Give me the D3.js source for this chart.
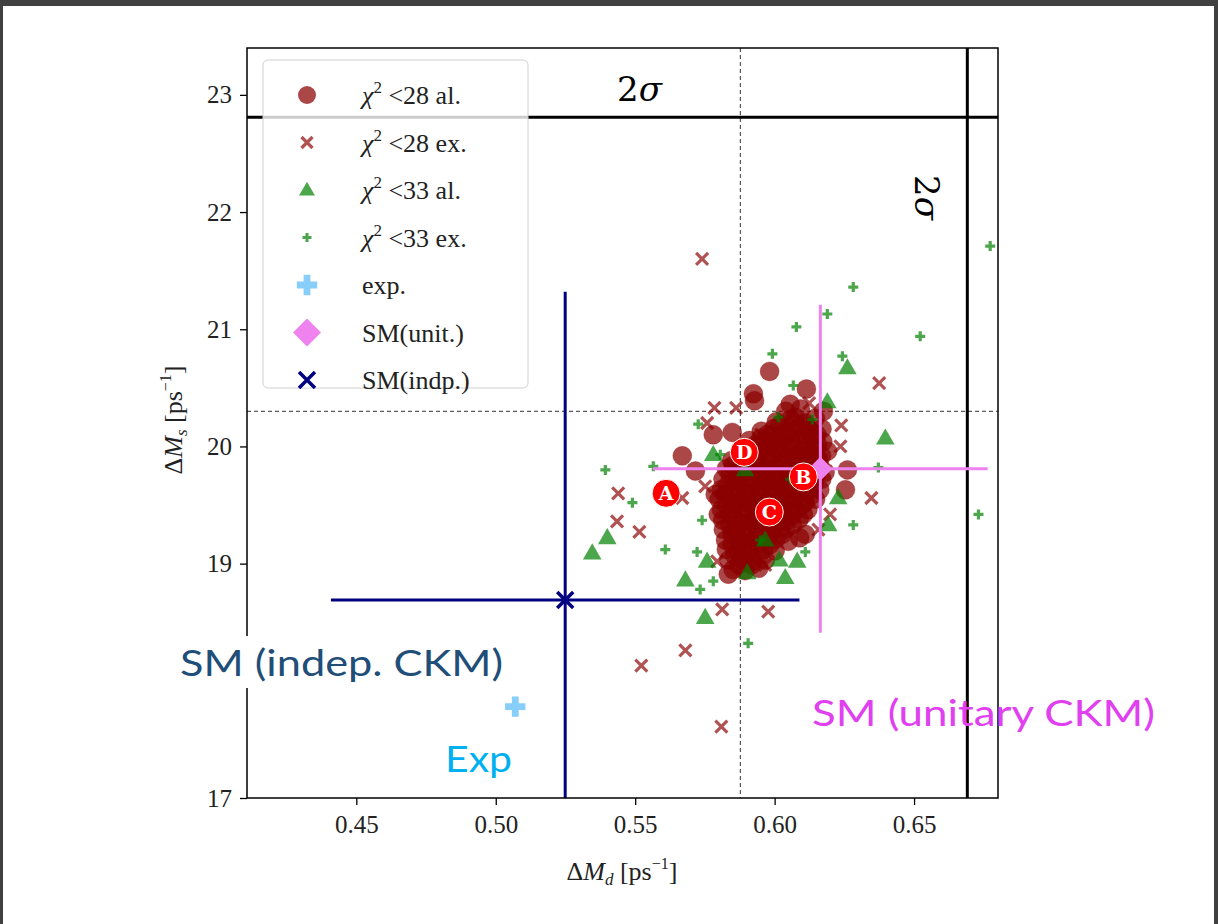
<!DOCTYPE html>
<html><head><meta charset="utf-8">
<script src="https://cdn.jsdelivr.net/npm/d3@7"></script>
<style>body{margin:0;background:#fff;overflow:hidden} svg{display:block}</style>
</head><body><svg id="c" width="1218" height="924"></svg>
<script>
// ---------------- data ----------------
const xDomain = [0.4108, 0.6801];
const yDomain = [17, 23.4];
const xTicks = [0.45, 0.50, 0.55, 0.60, 0.65];
const yTicks = [17, 19, 20, 21, 22, 23];

const redCircles = [
[0.5982,20.64],[0.5924,20.45],[0.5928,20.39],[0.6114,20.49],[0.6175,20.30],[0.5780,20.10],[0.5848,20.12],
[0.5669,19.92],[0.5716,19.79],[0.5787,19.59],[0.5798,19.42],[0.6261,19.80],[0.6254,19.63],[0.5834,18.91],
[0.6110,19.25],[0.6074,20.25],[0.6056,20.36],
[0.6040,20.30],[0.6093,20.32],
[0.6006,20.21],[0.6057,20.23],[0.6110,20.20],[0.6146,20.24],
[0.5952,20.13],[0.5996,20.15],[0.6041,20.12],[0.6087,20.16],[0.6129,20.13],[0.6170,20.15],
[0.5909,20.05],[0.5951,20.07],[0.5994,20.04],[0.6039,20.07],[0.6086,20.05],[0.6131,20.08],[0.6173,20.04],
[0.5880,19.98],[0.5923,19.96],[0.5967,19.99],[0.6013,19.97],[0.6058,19.98],[0.6101,19.96],[0.6146,19.99],[0.6190,19.96],
[0.5846,19.88],[0.5889,19.90],[0.5934,19.88],[0.5981,19.89],[0.6023,19.87],[0.6066,19.90],[0.6111,19.88],[0.6157,19.89],
[0.5827,19.81],[0.5872,19.79],[0.5917,19.81],[0.5961,19.80],[0.6004,19.82],[0.6049,19.79],[0.6093,19.81],[0.6137,19.80],[0.6181,19.78],
[0.5815,19.72],[0.5863,19.71],[0.5907,19.73],[0.5951,19.71],[0.5992,19.72],[0.6039,19.70],[0.6084,19.73],[0.6127,19.71],[0.6169,19.72],
[0.5808,19.63],[0.5853,19.64],[0.5897,19.62],[0.5943,19.63],[0.5987,19.65],[0.6029,19.62],[0.6076,19.64],[0.6119,19.62],[0.6162,19.63],
[0.5801,19.55],[0.5844,19.53],[0.5887,19.55],[0.5933,19.54],[0.5977,19.53],[0.6021,19.55],[0.6064,19.54],[0.6109,19.52],[0.6147,19.55],
[0.5809,19.46],[0.5851,19.47],[0.5895,19.45],[0.5941,19.46],[0.5986,19.44],[0.6029,19.47],[0.6073,19.45],[0.6119,19.46],
[0.5814,19.37],[0.5861,19.38],[0.5906,19.36],[0.5951,19.37],[0.5994,19.38],[0.6039,19.36],[0.6088,19.38],
[0.5816,19.29],[0.5862,19.28],[0.5906,19.30],[0.5951,19.29],[0.5993,19.28],[0.6041,19.30],
[0.5824,19.20],[0.5871,19.21],[0.5917,19.19],[0.5959,19.20],[0.6004,19.21],[0.6049,19.19],[0.6090,19.22],
[0.5827,19.12],[0.5869,19.11],[0.5914,19.13],[0.5961,19.12],[0.6002,19.11],
[0.5836,19.03],[0.5879,19.04],[0.5921,19.02],[0.5967,19.03],
[0.5851,18.95],[0.5894,18.94],[0.5943,18.96],
[0.6018,20.18],[0.6066,20.19],[0.6116,20.17],
[0.5973,20.10],[0.6018,20.09],[0.6063,20.11],[0.6108,20.10],[0.6152,20.10],
[0.5929,20.01],[0.5972,20.02],[0.6017,20.01],[0.6062,20.02],[0.6108,20.00],[0.6153,20.02],
[0.5902,19.93],[0.5946,19.94],[0.5991,19.93],[0.6035,19.94],[0.6081,19.93],[0.6124,19.94],[0.6168,19.92],
[0.5852,19.84],[0.5895,19.85],[0.5939,19.84],[0.5983,19.85],[0.6027,19.84],[0.6071,19.85],[0.6115,19.84],[0.6160,19.85],
[0.5840,19.76],[0.5885,19.75],[0.5929,19.76],[0.5972,19.76],[0.6016,19.75],[0.6061,19.76],[0.6106,19.75],[0.6149,19.76],
[0.5831,19.67],[0.5875,19.68],[0.5920,19.67],[0.5965,19.68],[0.6008,19.67],[0.6053,19.68],[0.6097,19.67],[0.6141,19.68],
[0.5823,19.59],[0.5866,19.58],[0.5910,19.59],[0.5955,19.58],[0.5999,19.59],[0.6043,19.58],[0.6087,19.59],[0.6130,19.58],
[0.5828,19.50],[0.5872,19.51],[0.5917,19.50],[0.5962,19.51],[0.6006,19.49],[0.6051,19.50],[0.6096,19.50],
[0.5838,19.42],[0.5883,19.41],[0.5928,19.42],[0.5972,19.41],[0.6017,19.42],[0.6062,19.41],[0.6103,19.42],
[0.5839,19.33],[0.5884,19.34],[0.5929,19.33],[0.5972,19.33],[0.6017,19.34],[0.6064,19.33],
[0.5847,19.25],[0.5893,19.24],[0.5938,19.25],[0.5982,19.24],[0.6027,19.25],
[0.5848,19.16],[0.5892,19.16],[0.5937,19.17],[0.5982,19.16],
[0.5857,19.07],[0.5900,19.08],[0.5944,19.07],[0.5871,18.99],[0.5918,18.99]
];
const redCrosses = [
[0.5740,21.60],[0.6375,20.54],[0.6347,19.56],[0.5439,19.60],[0.5435,19.36],[0.5515,19.27],[0.5522,18.13],
[0.5680,18.26],[0.5809,17.61],[0.5812,18.61],[0.5977,18.59],[0.5669,19.56],[0.5784,20.33],[0.5862,20.33],
[0.5758,20.20],[0.5952,20.10],[0.6239,20.18],[0.6124,20.37],[0.6236,20.00],[0.6199,19.42],[0.5751,19.66],
[0.5794,19.02],[0.5966,18.99],[0.6074,19.54],[0.6157,19.29]
];
const greenTriangles = [
[0.6261,20.67],[0.6397,20.07],[0.6189,20.38],[0.5346,19.09],[0.5400,19.22],[0.5680,18.86],[0.5751,18.54],
[0.6038,18.88],[0.6081,19.02],[0.5902,18.92],[0.5758,19.02],[0.6017,19.03],[0.6228,19.56],[0.6192,19.33],
[0.5780,19.93],[0.5966,19.20],[0.5894,19.80]
];
const greenPluses = [
[0.6773,21.71],[0.6731,19.42],[0.6282,21.36],[0.6522,20.94],[0.6189,21.13],[0.6078,21.02],[0.5992,20.79],
[0.6243,20.77],[0.6067,20.52],[0.5726,20.19],[0.6013,20.25],[0.5393,19.80],[0.5565,19.83],[0.5490,19.52],
[0.5740,19.37],[0.5608,19.12],[0.5722,19.10],[0.5780,18.85],[0.5733,18.78],[0.6110,19.10],[0.6282,19.33],
[0.5905,18.32],[0.6372,19.82],[0.5805,19.93],[0.5949,19.20],[0.6056,19.72],[0.6135,20.23]
];
const expPoint = [0.5070, 17.78];
const smUnit = {x: 0.6164, y: 19.81, ex: 0.060, ey: 1.40};
const smIndp = {x: 0.5249, y: 18.69, ex: 0.084, ey: 2.63};
const sigmaX = 0.6691, sigmaY = 22.81;
const dashX = 0.5877, dashY = 20.30;
const benchmarks = [
  {name: "A", x: 0.5611, y: 19.60},
  {name: "B", x: 0.6103, y: 19.74},
  {name: "C", x: 0.5981, y: 19.44},
  {name: "D", x: 0.5891, y: 19.95}
];
const legendLabels = ["<28 al.", "<28 ex.", "<33 al.", "<33 ex.", "exp.", "SM(unit.)", "SM(indp.)"];

// ---------------- drawing ----------------
const svg = d3.select("#c");
const L = 247, R = 998, T = 48, B = 798;
const x = d3.scaleLinear().domain(xDomain).range([L, R]);
const y = d3.scaleLinear().domain(yDomain).range([B, T]);

svg.append("rect").attr("x",0).attr("y",0).attr("width",1218).attr("height",6).attr("fill","#404040");
svg.append("rect").attr("x",0).attr("y",0).attr("width",3).attr("height",924).attr("fill","#404040");
svg.append("rect").attr("x",1214).attr("y",0).attr("width",4).attr("height",924).attr("fill","#404040");

svg.append("defs").append("clipPath").attr("id","clip")
  .append("rect").attr("x",L).attr("y",T).attr("width",R-L).attr("height",B-T);

const serif = "'Liberation Serif', 'DejaVu Serif', serif";

const xAxis = d3.axisBottom(x).tickValues(xTicks).tickFormat(d3.format(".2f")).tickSize(7).tickPadding(10);
const yAxis = d3.axisLeft(y).tickValues(yTicks).tickFormat(d3.format("d")).tickSize(7).tickPadding(8);
const gx = svg.append("g").attr("transform",`translate(0,${B})`).call(xAxis);
const gy = svg.append("g").attr("transform",`translate(${L},0)`).call(yAxis);
[gx, gy].forEach(g => {
  g.select(".domain").remove();
  g.selectAll(".tick line").attr("stroke","#000").attr("stroke-width",1.3);
  g.selectAll(".tick text").attr("font-family",serif).attr("font-size",25).attr("fill","#222");
});

const plot = svg.append("g").attr("clip-path","url(#clip)");

plot.append("line").attr("x1",x(dashX)).attr("x2",x(dashX)).attr("y1",T).attr("y2",B)
  .attr("stroke","#333").attr("stroke-width",1).attr("stroke-dasharray","4,3");
plot.append("line").attr("x1",L).attr("x2",R).attr("y1",y(dashY)).attr("y2",y(dashY))
  .attr("stroke","#333").attr("stroke-width",1).attr("stroke-dasharray","4,3");
plot.append("line").attr("x1",x(sigmaX)).attr("x2",x(sigmaX)).attr("y1",T).attr("y2",B)
  .attr("stroke","#000").attr("stroke-width",3);
plot.append("line").attr("x1",L-2).attr("x2",R).attr("y1",y(sigmaY)).attr("y2",y(sigmaY))
  .attr("stroke","#000").attr("stroke-width",3);

const plusPath = (s) => `M${-s},0H${s}M0,${-s}V${s}`;
const xPath = (s) => `M${-s},${-s}L${s},${s}M${-s},${s}L${s},${-s}`;
const triPath = d3.symbol().type(d3.symbolTriangle).size(150)();
const diamondPath = (s) => `M0,${-s}L${s},0L0,${s}L${-s},0Z`;

plot.selectAll(".rc").data(redCircles).join("circle")
  .attr("cx", d => x(d[0])).attr("cy", d => y(d[1])).attr("r", 9.5)
  .attr("fill","darkred").attr("fill-opacity",0.72)
  .attr("stroke","darkred").attr("stroke-opacity",0.3).attr("stroke-width",1);
plot.selectAll(".rx").data(redCrosses).join("path")
  .attr("d", xPath(6)).attr("transform", d => `translate(${x(d[0])},${y(d[1])})`)
  .attr("stroke","darkred").attr("stroke-opacity",0.68).attr("stroke-width",3.2).attr("fill","none");
plot.selectAll(".gt").data(greenTriangles).join("path")
  .attr("d", triPath).attr("transform", d => `translate(${x(d[0])},${y(d[1])+1})`)
  .attr("fill","green").attr("fill-opacity",0.7);
plot.selectAll(".gp").data(greenPluses).join("path")
  .attr("d", plusPath(5)).attr("transform", d => `translate(${x(d[0])},${y(d[1])})`)
  .attr("stroke","green").attr("stroke-opacity",0.7).attr("stroke-width",3.2).attr("fill","none");

plot.append("path").attr("d", d3.symbol().type(d3.symbolCross).size(230)())
  .attr("transform",`translate(${x(expPoint[0])},${y(expPoint[1])})`).attr("fill","lightskyblue");

plot.append("line").attr("x1",x(smUnit.x-smUnit.ex)).attr("x2",x(smUnit.x+smUnit.ex))
  .attr("y1",y(smUnit.y)).attr("y2",y(smUnit.y)).attr("stroke","violet").attr("stroke-width",3);
plot.append("line").attr("x1",x(smUnit.x)).attr("x2",x(smUnit.x))
  .attr("y1",y(smUnit.y-smUnit.ey)).attr("y2",y(smUnit.y+smUnit.ey)).attr("stroke","violet").attr("stroke-width",3);
plot.append("path").attr("d", diamondPath(12))
  .attr("transform",`translate(${x(smUnit.x)},${y(smUnit.y)})`).attr("fill","violet");

plot.append("line").attr("x1",x(smIndp.x-smIndp.ex)).attr("x2",x(smIndp.x+smIndp.ex))
  .attr("y1",y(smIndp.y)).attr("y2",y(smIndp.y)).attr("stroke","navy").attr("stroke-width",3);
plot.append("line").attr("x1",x(smIndp.x)).attr("x2",x(smIndp.x))
  .attr("y1",y(smIndp.y-smIndp.ey)).attr("y2",y(smIndp.y+smIndp.ey)).attr("stroke","navy").attr("stroke-width",3);
plot.append("path").attr("d", xPath(8))
  .attr("transform",`translate(${x(smIndp.x)},${y(smIndp.y)})`).attr("stroke","navy").attr("stroke-width",3.5).attr("fill","none");

const bm = svg.selectAll(".bm").data(benchmarks).join("g")
  .attr("transform", d => `translate(${x(d.x)},${y(d.y)})`);
bm.append("circle").attr("r",14).attr("fill","#ff0000").attr("stroke","#fff").attr("stroke-width",1);
bm.append("text").text(d => d.name).attr("text-anchor","middle").attr("dy","0.36em")
  .attr("font-family","'DejaVu Serif', serif").attr("font-weight","bold").attr("font-size",19).attr("fill","#fff");

svg.append("rect").attr("x",L).attr("y",T).attr("width",R-L).attr("height",B-T)
  .attr("fill","none").attr("stroke","#000").attr("stroke-width",1.5);

const lg = svg.append("g");
lg.append("rect").attr("x",263).attr("y",60).attr("width",265).attr("height",328).attr("rx",5)
  .attr("fill","#fff").attr("fill-opacity",0.8).attr("stroke","#d0d0d0").attr("stroke-width",1);
const rowY = i => 95 + i*47.5;
const mx = 307;
lg.append("circle").attr("cx",mx).attr("cy",rowY(0)).attr("r",9).attr("fill","darkred").attr("fill-opacity",0.72);
lg.append("path").attr("d",xPath(5.5)).attr("transform",`translate(${mx},${rowY(1)})`)
  .attr("stroke","darkred").attr("stroke-opacity",0.68).attr("stroke-width",3.2);
lg.append("path").attr("d",d3.symbol().type(d3.symbolTriangle).size(110)()).attr("transform",`translate(${mx},${rowY(2)+1})`)
  .attr("fill","green").attr("fill-opacity",0.7);
lg.append("path").attr("d",plusPath(4.5)).attr("transform",`translate(${mx},${rowY(3)})`)
  .attr("stroke","green").attr("stroke-opacity",0.7).attr("stroke-width",3);
lg.append("path").attr("d",d3.symbol().type(d3.symbolCross).size(230)()).attr("transform",`translate(${mx},${rowY(4)})`)
  .attr("fill","lightskyblue");
lg.append("path").attr("d",diamondPath(14)).attr("transform",`translate(${mx},${rowY(5)})`).attr("fill","violet");
lg.append("path").attr("d",xPath(8)).attr("transform",`translate(${mx},${rowY(6)})`)
  .attr("stroke","navy").attr("stroke-width",3.5);

legendLabels.forEach((lab, i) => {
  const t = lg.append("text").attr("x",362).attr("y",rowY(i)+9).attr("font-family",serif)
    .attr("font-size",26).attr("fill","#222");
  if (i < 4) {
    t.append("tspan").attr("font-style","italic").text("χ");
    t.append("tspan").attr("font-size",17).attr("dy",-11).text("2");
    t.append("tspan").attr("dy",11).text(" " + lab);
  } else {
    t.text(lab);
  }
});

const xl = svg.append("text").attr("x",622).attr("y",880).attr("text-anchor","middle")
  .attr("font-family",serif).attr("font-size",26).attr("fill","#222");
xl.append("tspan").text("Δ");
xl.append("tspan").attr("font-style","italic").text("M");
xl.append("tspan").attr("font-style","italic").attr("font-size",17).attr("dy",5).text("d");
xl.append("tspan").attr("dy",-5).text(" [ps");
xl.append("tspan").attr("font-size",16).attr("dy",-11).text("−1");
xl.append("tspan").attr("dy",11).text("]");

const yl = svg.append("text").attr("transform","translate(182,420) rotate(-90)").attr("text-anchor","middle")
  .attr("font-family",serif).attr("font-size",26).attr("fill","#222");
yl.append("tspan").text("Δ");
yl.append("tspan").attr("font-style","italic").text("M");
yl.append("tspan").attr("font-style","italic").attr("font-size",17).attr("dy",5).text("s");
yl.append("tspan").attr("dy",-5).text(" [ps");
yl.append("tspan").attr("font-size",16).attr("dy",-11).text("−1");
yl.append("tspan").attr("dy",11).text("]");

const sig1 = svg.append("text").attr("x",617).attr("y",101).attr("font-family","'DejaVu Serif', serif")
  .attr("font-size",34).attr("fill","#000");
sig1.append("tspan").text("2");
sig1.append("tspan").attr("font-style","italic").text("σ");
const sig2 = svg.append("text").attr("transform","translate(915,175) rotate(90)").attr("font-family","'DejaVu Serif', serif")
  .attr("font-size",34).attr("fill","#000");
sig2.append("tspan").text("2");
sig2.append("tspan").attr("font-style","italic").text("σ");

svg.append("rect").attr("x",172).attr("y",636).attr("width",336).attr("height",52).attr("fill","#fff");
svg.append("text").attr("x",180).attr("y",676).attr("font-family","Lato, 'Open Sans', sans-serif")
  .attr("font-size",36).attr("fill","#1f4e79").attr("textLength",323).attr("lengthAdjust","spacingAndGlyphs")
  .text("SM (indep. CKM)");
svg.append("text").attr("x",445).attr("y",772).attr("font-family","Lato, 'Open Sans', sans-serif")
  .attr("font-size",36).attr("fill","#00b0f0").attr("textLength",67).attr("lengthAdjust","spacingAndGlyphs")
  .text("Exp");
svg.append("text").attr("x",812).attr("y",726).attr("font-family","Lato, 'Open Sans', sans-serif")
  .attr("font-size",36).attr("fill","#e040f0").attr("textLength",343).attr("lengthAdjust","spacingAndGlyphs")
  .text("SM (unitary CKM)");
</script></body></html>
